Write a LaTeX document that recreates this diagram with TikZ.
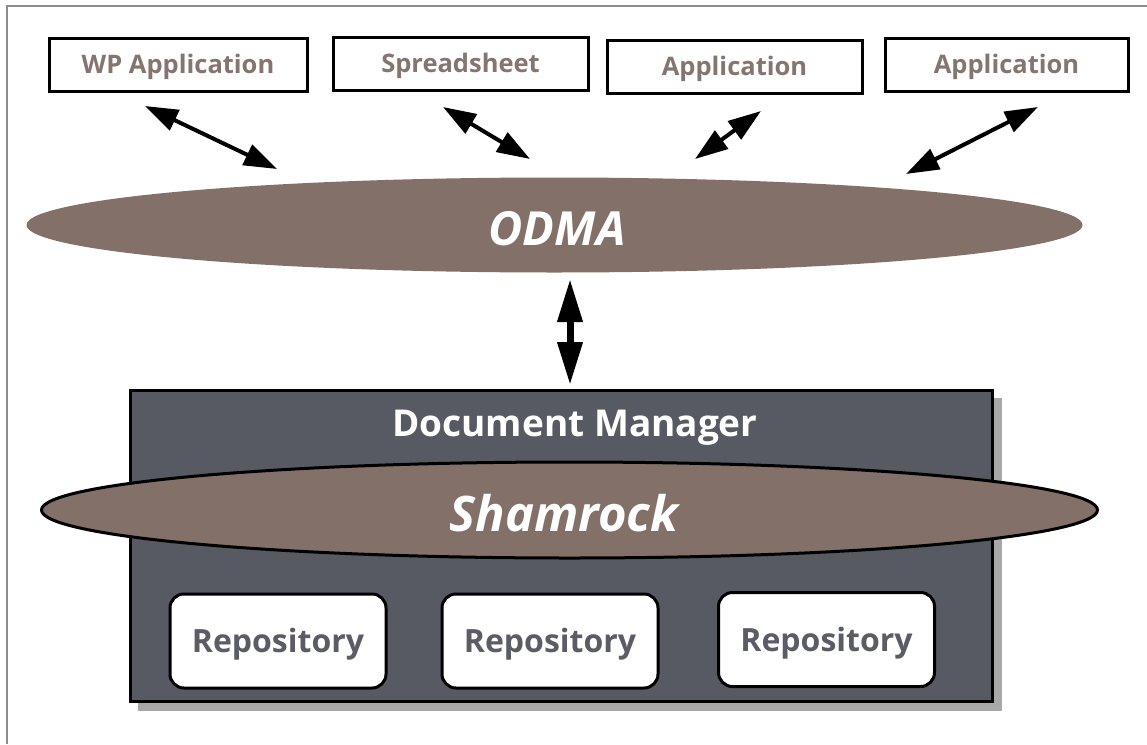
\documentclass[tikz,border=0pt]{standalone}
\usepackage{fontspec}
\setmainfont{Open Sans}
\usetikzlibrary{shapes.geometric,arrows.meta}
\definecolor{odmac}{HTML}{837169}
\definecolor{dmc}{HTML}{575A63}
\definecolor{apptxt}{HTML}{857570}
\definecolor{repotxt}{HTML}{5A5D66}
\definecolor{shadowc}{HTML}{A8A8A8}
\definecolor{framec}{HTML}{8C8C8C}
\tikzset{
  appbox/.style={draw=black, line width=3pt, fill=white, minimum height=53pt, inner sep=0pt,
    text height=23pt, text depth=6pt,
    font=\fontsize{25.5}{28}\selectfont\bfseries, text=apptxt},
  repobox/.style={draw=black, line width=3pt, fill=white, rounded corners=14pt,
    minimum width=216pt, minimum height=94pt, inner sep=0pt,
    text height=31pt, text depth=7.7pt,
    font=\fontsize{32}{36}\selectfont\bfseries, text=repotxt},
  dbl/.style={line width=4pt, {Triangle[length=33pt,width=22pt]}-{Triangle[length=33pt,width=22pt]}},
  vdbl/.style={line width=7pt, {Triangle[length=43pt,width=24pt]}-{Triangle[length=43pt,width=24pt]}},
}
\begin{document}
\begin{tikzpicture}[x=1pt,y=-1pt]
\useasboundingbox (0,0) rectangle (1147,744);
% frame
\draw[framec, line width=1.2pt] (7,744) -- (7,6) -- (1147,6);
% top application boxes
\node[appbox, minimum width=258pt] (wp) at (178,65) {WP Application};
\node[appbox, minimum width=255pt] (ss) at (460.5,64) {Spreadsheet};
\node[appbox, minimum width=255pt] (app1) at (734.5,67) {Application};
\node[appbox, minimum width=243pt] (app2) at (1006.5,65) {Application};
% ODMA ellipse
\node[ellipse, fill=odmac, minimum width=1056pt, minimum height=95pt, inner sep=0pt] (odma) at (554.5,225) {};
\node[text=white, font=\fontsize{47}{50}\selectfont\bfseries\itshape] (odmatxt) at (557,229) {ODMA};
% arrow end points
\coordinate (a1s) at (145,106); \coordinate (a1e) at (277,169);
\coordinate (a2s) at (443,107); \coordinate (a2e) at (530,159);
\coordinate (a3s) at (761,111); \coordinate (a3e) at (695,159);
\coordinate (a4s) at (1038,107); \coordinate (a4e) at (906,174);
\coordinate (vs) at (570,279); \coordinate (ve) at (570,385);
\draw[dbl] (a1s) -- (a1e);
\draw[dbl] (a2s) -- (a2e);
\draw[dbl] (a3s) -- (a3e);
\draw[dbl] (a4s) -- (a4e);
\draw[vdbl] (vs) -- (ve);
% Document manager box
\fill[shadowc] (138,398) rectangle (1002,711);
\node[draw=black, line width=3pt, fill=dmc, minimum width=862pt, minimum height=311pt,
  inner sep=0pt] (dm) at (561,545.5) {};
\node[text=white, font=\fontsize{37}{40}\selectfont\bfseries] (dmtxt) at (575,428) {Document Manager};
% Shamrock
\node[ellipse, draw=black, line width=3pt, fill=odmac, minimum width=1056pt, minimum height=96pt,
  inner sep=0pt] (sham) at (569.5,510) {};
\node[text=white, font=\fontsize{49}{52}\selectfont\bfseries\itshape] (shamtxt) at (564,513) {Shamrock};
% repositories
\node[repobox] (r1) at (278,641) {Repository};
\node[repobox] (r2) at (550,641) {Repository};
\node[repobox] (r3) at (826.5,639.5) {Repository};
\end{tikzpicture}
\end{document}
